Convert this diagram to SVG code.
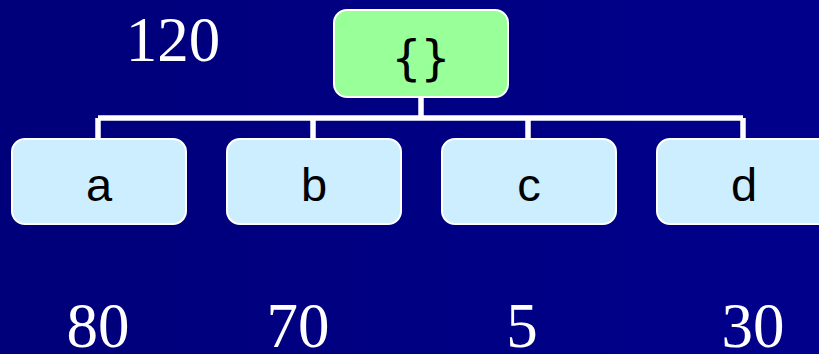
<svg xmlns="http://www.w3.org/2000/svg" width="819" height="354" viewBox="0 0 819 354">
  <defs>
    <linearGradient id="bg" x1="0" y1="0" x2="1" y2="0">
      <stop offset="0" stop-color="#00007a"/>
      <stop offset="1" stop-color="#00008c"/>
    </linearGradient>
  </defs>
  <style>
    .root { fill: #99ff99; stroke: #ffffff; stroke-width: 2; }
    .child { fill: #cceeff; stroke: #ffffff; stroke-width: 2; }
    .conn { fill: none; stroke: #ffffff; stroke-width: 5.5; }
    .lbl { font-family: "Liberation Sans", Arial, sans-serif; font-size: 47px; fill: #000000; text-anchor: middle; }
    .mono { font-family: "DejaVu Sans Mono", monospace; font-size: 48px; fill: #000000; text-anchor: middle; }
    .num { font-family: "Liberation Serif", "Times New Roman", serif; font-size: 63px; fill: #ffffff; text-anchor: middle; }
  </style>
  <rect x="0" y="0" width="819" height="354" fill="url(#bg)"/>
  <g id="connectors">
    <path class="conn" d="M421,97 V118 M98,118 H743 M98,118 V139 M313,118 V139 M528,118 V139 M743,118 V139"/>
  </g>
  <g id="root">
    <rect class="root" x="334" y="10" width="174" height="87" rx="13"/>
    <text class="mono" x="421" y="75">{}</text>
  </g>
  <g id="node-a">
    <rect class="child" x="12" y="139" width="174" height="85" rx="13"/>
    <text class="lbl" x="99" y="201">a</text>
  </g>
  <g id="node-b">
    <rect class="child" x="227" y="139" width="174" height="85" rx="13"/>
    <text class="lbl" x="314" y="201">b</text>
  </g>
  <g id="node-c">
    <rect class="child" x="442" y="139" width="174" height="85" rx="13"/>
    <text class="lbl" x="529" y="201">c</text>
  </g>
  <g id="node-d">
    <rect class="child" x="657" y="139" width="174" height="85" rx="13"/>
    <text class="lbl" x="744" y="201">d</text>
  </g>
  <g id="numbers">
    <text class="num" x="173" y="61">120</text>
    <text class="num" x="98" y="347">80</text>
    <text class="num" x="298" y="347">70</text>
    <text class="num" x="522" y="347">5</text>
    <text class="num" x="753" y="347">30</text>
  </g>
</svg>
